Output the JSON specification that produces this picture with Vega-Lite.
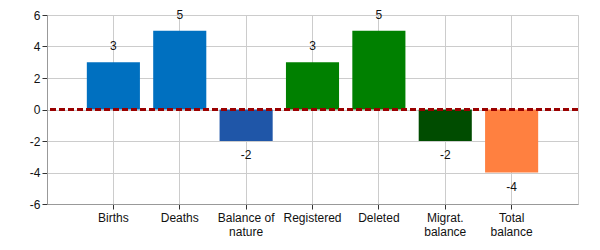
{
  "$schema": "https://vega.github.io/schema/vega-lite/v6.json",
  "width": 531,
  "height": 189,
  "autosize": {"type": "none"},
  "padding": {"left": 47, "top": 15, "right": 22, "bottom": 46},
  "background": "white",
  "config": {
    "font": "Liberation Sans",
    "view": {"stroke": "#cccccc", "strokeWidth": 1},
    "axis": {
      "gridColor": "#cccccc",
      "gridWidth": 1,
      "domainColor": "#999999",
      "tickColor": "#333333",
      "labelColor": "#111111",
      "labelFontSize": 12,
      "labelFont": "Liberation Sans"
    }
  },
  "data": {
    "values": [
      {"category": "Births", "value": 3},
      {"category": "Deaths", "value": 5},
      {"category": "Balance of nature", "value": -2},
      {"category": "Registered", "value": 3},
      {"category": "Deleted", "value": 5},
      {"category": "Migrat. balance", "value": -2},
      {"category": "Total balance", "value": -4}
    ]
  },
  "encoding": {
    "y": {
      "field": "value",
      "type": "quantitative",
      "title": null,
      "scale": {"domain": [-6, 6], "nice": false},
      "axis": {"values": [-6, -4, -2, 0, 2, 4, 6], "tickSize": 5, "labelPadding": 2, "labelOverlap": false, "labelExpr": "'' + datum.value"}
    }
  },
  "layer": [
    {
      "mark": {"type": "bar"},
      "encoding": {
        "x": {
          "field": "category",
          "type": "nominal",
          "sort": null,
          "title": null,
          "scale": {"paddingInner": 0.2, "paddingOuter": 0.6},
          "axis": {
            "labelAngle": 0,
            "grid": true,
            "bandPosition": 0.5,
            "tickSize": 5,
            "labelPadding": 3,
            "labelExpr": "datum.label == 'Balance of nature' ? ['Balance of', 'nature'] : datum.label == 'Migrat. balance' ? ['Migrat.', 'balance'] : datum.label == 'Total balance' ? ['Total', 'balance'] : datum.label"
          }
        },
        "color": {
          "field": "category",
          "type": "nominal",
          "legend": null,
          "scale": {
            "domain": ["Births", "Deaths", "Balance of nature", "Registered", "Deleted", "Migrat. balance", "Total balance"],
            "range": ["#0070c0", "#0070c0", "#1f56a8", "#008000", "#008000", "#004c00", "#ff8040"]
          }
        }
      }
    },
    {
      "mark": {"type": "rule", "color": "#990000", "strokeWidth": 2, "strokeDash": [6, 3]},
      "encoding": {"y": {"datum": 0, "type": "quantitative"}}
    },
    {
      "transform": [{"filter": "datum.value >= 0"}],
      "mark": {"type": "text", "baseline": "bottom", "dy": -9, "fontSize": 12, "color": "#111111"},
      "encoding": {
        "x": {"field": "category", "type": "nominal", "sort": null},
        "text": {"field": "value", "type": "nominal"}
      }
    },
    {
      "transform": [{"filter": "datum.value < 0"}],
      "mark": {"type": "text", "baseline": "top", "dy": 9, "fontSize": 12, "color": "#111111"},
      "encoding": {
        "x": {"field": "category", "type": "nominal", "sort": null},
        "text": {"field": "value", "type": "nominal"}
      }
    }
  ]
}
